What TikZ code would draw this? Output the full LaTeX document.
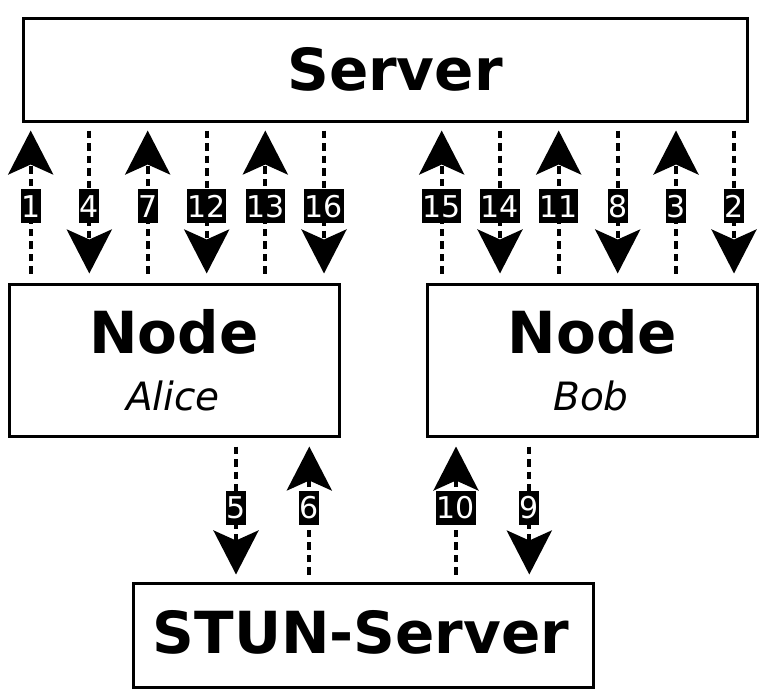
\documentclass[tikz,border=0pt]{standalone}
\usepackage{fontspec}
\setmainfont{DejaVu Sans}
\usetikzlibrary{arrows.meta}
\begin{document}
\begin{tikzpicture}[x=1pt,y=-1pt,
  box/.style={draw, line width=3pt, inner sep=0pt, fill=white},
  bigtxt/.style={anchor=base, inner sep=0pt, font=\fontsize{58}{60}\selectfont\bfseries},
  subtxt/.style={anchor=base, inner sep=0pt, font=\fontsize{39}{40}\selectfont\itshape},
  conn/.style={line width=4pt, dash pattern=on 7.5pt off 5pt,
    -{Stealth[length=44pt, width=45pt, inset=10pt]}},
  lbl/.style={fill=black, text=white, inner xsep=0.6pt, inner ysep=0pt,
    minimum height=34pt, font=\fontsize{30}{30}\selectfont}]
\useasboundingbox (0,0) rectangle (771,693);
% boxes
\node[box, minimum width=724pt, minimum height=102pt] (server) at (385,70) {};
\node[box, minimum width=330pt, minimum height=152pt] (alice) at (174.5,360) {};
\node[box, minimum width=330pt, minimum height=152pt] (bob) at (592,360) {};
\node[box, minimum width=460pt, minimum height=104pt] (stun) at (363,635) {};
% texts
\node[bigtxt] (servertxt) at (395,90) {Server};
\node[bigtxt] (alicetxt) at (174,353) {Node};
\node[subtxt] (alicename) at (173,410) {Alice};
\node[bigtxt] (bobtxt) at (592.5,353) {Node};
\node[subtxt] (bobname) at (591,410) {Bob};
\node[bigtxt] (stuntxt) at (361,653) {STUN-Server};
% x positions
\foreach \n/\xx in {1/30.7,4/89.3,7/147.7,12/206.7,13/265.3,16/324,
                    15/441.7,14/500,11/558.7,8/617.7,3/676,2/734,
                    5/236,6/309.3,10/456,9/529.3}
  \coordinate (x\n) at (\xx,0);
% Alice <-> Server
\foreach \n in {1,7,13}
  \draw[conn] ([yshift=9pt]alice.north -| x\n) -- ([yshift=-8pt]server.south -| x\n)
    node[lbl, pos=0.47] {\n};
\foreach \n in {4,12,16}
  \draw[conn] ([yshift=-8pt]server.south -| x\n) -- ([yshift=9pt]alice.north -| x\n)
    node[lbl, pos=0.53] {\n};
% Bob <-> Server
\foreach \n in {15,11,3}
  \draw[conn] ([yshift=9pt]bob.north -| x\n) -- ([yshift=-8pt]server.south -| x\n)
    node[lbl, pos=0.47] {\n};
\foreach \n in {14,8,2}
  \draw[conn] ([yshift=-8pt]server.south -| x\n) -- ([yshift=9pt]bob.north -| x\n)
    node[lbl, pos=0.53] {\n};
% Alice/Bob <-> STUN
\draw[conn] ([yshift=-9pt]alice.south -| x5) -- ([yshift=7pt]stun.north -| x5)
  node[lbl, pos=0.48] {5};
\draw[conn] ([yshift=7pt]stun.north -| x6) -- ([yshift=-9pt]alice.south -| x6)
  node[lbl, pos=0.52] {6};
\draw[conn] ([yshift=7pt]stun.north -| x10) -- ([yshift=-9pt]bob.south -| x10)
  node[lbl, pos=0.52] {10};
\draw[conn] ([yshift=-9pt]bob.south -| x9) -- ([yshift=7pt]stun.north -| x9)
  node[lbl, pos=0.48] {9};
\end{tikzpicture}
\end{document}
